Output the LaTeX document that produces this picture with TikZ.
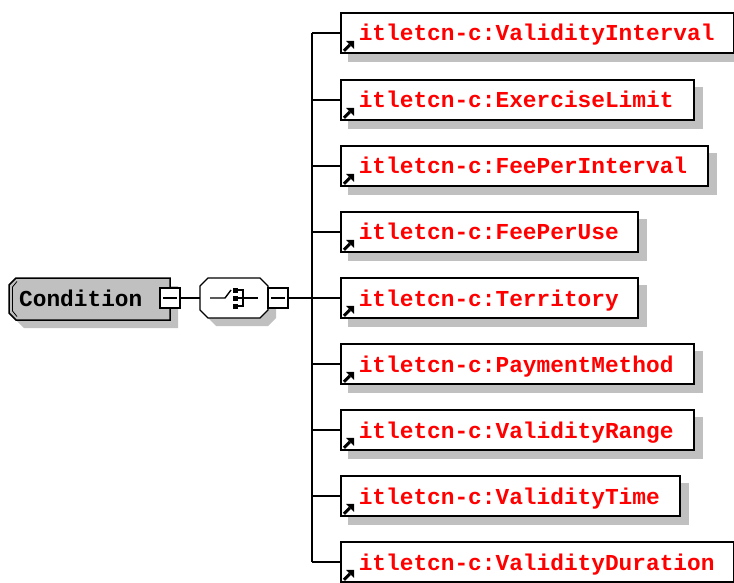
\documentclass[tikz,border=0pt]{standalone}
\usepackage{fontspec}
\newfontfamily\xmono{Liberation Mono}
\usetikzlibrary{backgrounds}
\definecolor{shadowgray}{RGB}{192,192,192}
\definecolor{condgray}{RGB}{192,192,192}
\definecolor{elred}{RGB}{255,0,0}
\begin{document}
\begin{tikzpicture}[x=1pt,y=-1pt,
  conn/.style={line width=1.3pt, black},
  lblfont/.style={font=\xmono\bfseries\fontsize{22.8}{24}\selectfont, text height=18pt, text depth=2pt},
  elbox/.style={lblfont, draw=black, line width=1.6pt, fill=white, anchor=west,
    minimum height=40pt, inner xsep=18pt, inner ysep=0pt, align=left, text=elred},
  minusbox/.style={draw=black, line width=1.3pt, fill=white, minimum size=20pt, inner sep=0pt,
    path picture={\draw[line width=1.2pt] ([xshift=3pt]path picture bounding box.west) -- ([xshift=-3pt]path picture bounding box.east);}},
  sh/.style={fill=shadowgray},
]
\useasboundingbox (0,0) rectangle (734,583);

% Condition element
\fill[sh] (24,286) -- (178,286) -- (178,328) -- (24,328) -- (17,321) -- (17,293) -- cycle;
\draw[line width=1.5pt, fill=condgray] (16,278) -- (170,278) -- (170,320) -- (16,320) -- (9,313) -- (9,285) -- cycle;
\draw[line width=0.8pt] (17,281.5) -- (12.5,287) -- (12.5,311) -- (17,316.5);
\node[lblfont, anchor=west, inner sep=0pt] (cond) at (19,298) {Condition};
\node[minusbox] (condm) at (170,298) {};

% sequence compositor
\fill[sh] (216,286) -- (268,286) -- (276,294) -- (276,318) -- (268,326) -- (216,326) -- (208,318) -- (208,294) -- cycle;
\draw[line width=1.4pt, fill=white] (208,278) -- (260,278) -- (268,286) -- (268,310) -- (260,318) -- (208,318) -- (200,310) -- (200,286) -- cycle;
\node[minimum width=68pt, minimum height=40pt, inner sep=0pt] (seq) at (234,298) {};
\draw[line width=1.4pt] (210,298) -- (225,298) -- (231,290);
\fill (232.5,287.5) rectangle (237.5,292.5);
\fill (232.5,295.5) rectangle (237.5,300.5);
\fill (232.5,303.5) rectangle (237.5,308.5);
\draw[line width=1.4pt] (237,290) -- (243,290) -- (243,306) -- (237,306);
\draw[line width=1.4pt] (237,298) -- (258,298);
\node[minusbox] (seqm) at (278,298) {};

\draw[conn] (condm.east) -- (seq.west);
\coordinate (tk) at (312,298);
\draw[conn] (seqm.east) -- (tk);

% child elements
\foreach \n/\y/\tw/\t in {
  e1/33/357/ValidityInterval,
  e2/100/317/ExerciseLimit,
  e3/166/331/FeePerInterval,
  e4/232/261/FeePerUse,
  e5/298/261/Territory,
  e6/364/317/PaymentMethod,
  e7/430/317/ValidityRange,
  e8/496/303/ValidityTime,
  e9/562/357/ValidityDuration} {
  \node[elbox, text width=\tw pt] (\n) at (340,\y) {itletcn-c:\t};
  \begin{pgfonlayer}{background}
    \fill[sh] ([shift={(8,8)}]\n.north west) rectangle ([shift={(8,8)}]\n.south east);
  \end{pgfonlayer}
  \fill ([shift={(14,-13)}]\n.south west) -- ([shift={(6,-13)}]\n.south west) -- ([shift={(14,-5)}]\n.south west) -- cycle;
  \draw[line width=3pt] ([shift={(4,-3)}]\n.south west) -- ([shift={(10,-9)}]\n.south west);
  \draw[conn] (\n.west -| tk) -- (\n.west);
}
\draw[conn] (e1.west -| tk) -- (e9.west -| tk);
\end{tikzpicture}
\end{document}
